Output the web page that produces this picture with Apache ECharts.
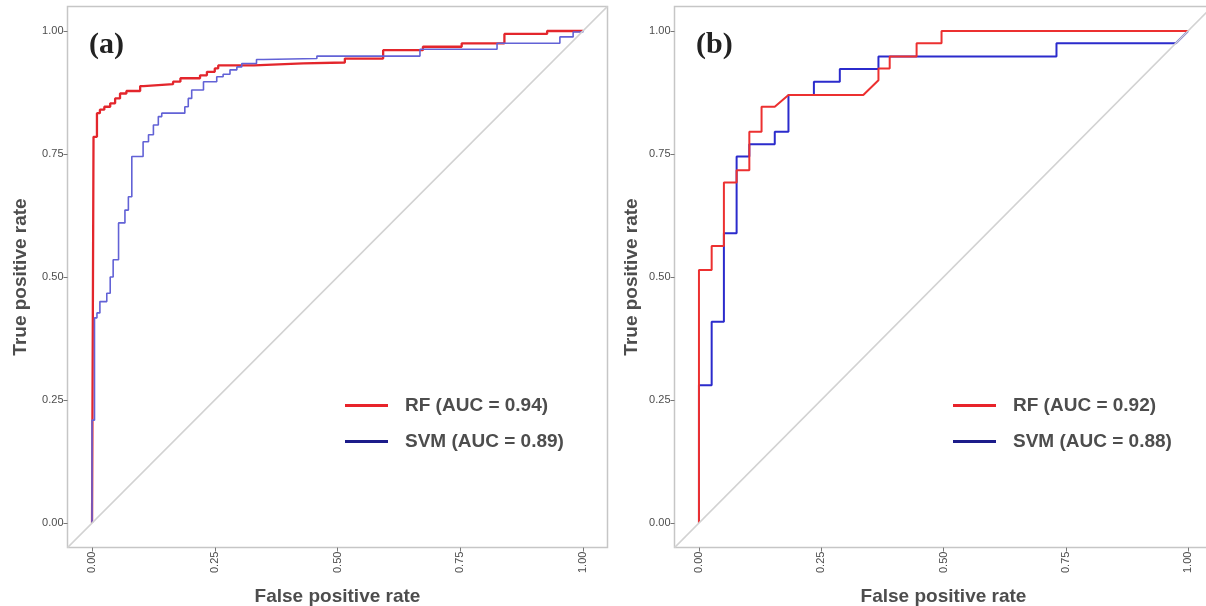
<!DOCTYPE html>
<html>
<head>
<meta charset="utf-8">
<script src="https://cdn.jsdelivr.net/npm/echarts@6/dist/echarts.min.js"></script>
<style>
html,body{margin:0;padding:0;background:#fff;}
#chart{width:1206px;height:606px;}
</style>
</head>
<body>
<div id="chart"></div>
<script>
// ---- data ----
const tickValues = [0, 0.25, 0.5, 0.75, 1];
const panelLabels = ['(a)', '(b)'];
const legendA = ['RF (AUC = 0.94)', 'SVM (AUC = 0.89)'];
const legendB = ['RF (AUC = 0.92)', 'SVM (AUC = 0.88)'];
const diagonal = [[-0.05, -0.05], [1.05, 1.05]];

// panel (a): [fpr at riser, tpr after riser] (drawn as step 'end')
const rfA = [[0,0],[0.003,0.785],[0.01,0.833],[0.016,0.84],[0.025,0.846],[0.037,0.853],[0.047,0.863],
  [0.057,0.873],[0.07,0.878],[0.098,0.888],[0.105,0.892],[0.165,0.897],[0.18,0.904],[0.22,0.91],
  [0.234,0.917],[0.25,0.924],[0.257,0.93],[0.33,0.934],[0.43,0.936],[0.515,0.944],[0.593,0.961],
  [0.674,0.968],[0.753,0.975],[0.84,0.994],[0.927,1.0],[1.0,1.0]];
const svmA = [[0,0],[0,0.209],[0.005,0.417],[0.01,0.427],[0.016,0.45],[0.03,0.467],[0.037,0.5],
  [0.043,0.535],[0.054,0.61],[0.067,0.636],[0.074,0.663],[0.081,0.745],[0.104,0.775],[0.115,0.789],
  [0.125,0.809],[0.135,0.826],[0.142,0.833],[0.189,0.846],[0.196,0.863],[0.203,0.88],[0.227,0.897],
  [0.254,0.907],[0.267,0.912],[0.281,0.921],[0.295,0.927],[0.305,0.934],[0.335,0.942],[0.349,0.944],
  [0.458,0.949],[0.668,0.963],[0.825,0.975],[0.953,0.988],[0.98,0.998],[1.0,1.0]];

// panel (b): ROC vertices
const rfB = [[0,0],[0,0.514],[0.026,0.514],[0.026,0.563],[0.051,0.563],[0.051,0.692],[0.077,0.692],
  [0.077,0.717],[0.103,0.717],[0.103,0.795],[0.128,0.795],[0.128,0.846],[0.155,0.846],[0.183,0.87],
  [0.336,0.87],[0.367,0.9],[0.367,0.924],[0.39,0.924],[0.39,0.948],[0.445,0.948],[0.445,0.975],
  [0.496,0.975],[0.496,1.0],[1.0,1.0]];
const svmB = [[0,0],[0,0.28],[0.026,0.28],[0.026,0.409],[0.051,0.409],[0.051,0.589],[0.077,0.589],
  [0.077,0.745],[0.103,0.745],[0.103,0.77],[0.155,0.77],[0.155,0.795],[0.183,0.795],[0.183,0.87],
  [0.235,0.87],[0.235,0.897],[0.288,0.897],[0.288,0.923],[0.367,0.923],[0.367,0.948],[0.731,0.948],
  [0.731,0.975],[0.975,0.975],[1.0,1.0]];

// ---- chart ----
const FONT = '"Liberation Sans", Arial, sans-serif';
const grey = '#4d4d4d';
function xAxis(gi) {
  return {
    type: 'value', gridIndex: gi, min: -0.05, max: 1.05, position: 'bottom',
    axisLine: {show: false, onZero: false}, splitLine: {show: false},
    axisTick: {show: true, inside: false, customValues: tickValues, length: 4, lineStyle: {color: '#777', width: 1}},
    axisLabel: {customValues: tickValues, rotate: 90, margin: 4, fontSize: 11, color: grey,
      fontFamily: FONT, formatter: v => v.toFixed(2)},
    name: 'False positive rate', nameLocation: 'middle', nameGap: 40,
    nameTextStyle: {fontSize: 19, fontWeight: 'bold', color: grey, fontFamily: FONT}
  };
}
function yAxis(gi, gap) {
  return {
    type: 'value', gridIndex: gi, min: -0.05, max: 1.05, position: 'left',
    axisLine: {show: false, onZero: false}, splitLine: {show: false},
    axisTick: {show: true, inside: false, customValues: tickValues, length: 4, lineStyle: {color: '#777', width: 1}},
    axisLabel: {customValues: tickValues, margin: 4, fontSize: 11, color: grey,
      fontFamily: FONT, formatter: v => v.toFixed(2)},
    name: 'True positive rate', nameLocation: 'middle', nameGap: gap,
    nameTextStyle: {fontSize: 19, fontWeight: 'bold', color: grey, fontFamily: FONT}
  };
}
function legend(names, left, colors) {
  return {
    orient: 'vertical', left: left, top: 391, icon: 'rect', itemWidth: 43, itemHeight: 3, itemGap: 17,
    textStyle: {fontSize: 19, fontWeight: 'bold', color: grey, fontFamily: FONT, padding: [0, 0, 0, 12]},
    data: names.map((n, i) => ({name: n, itemStyle: {color: colors[i]}}))
  };
}
function lineSeries(name, data, gi, color, width, step, z) {
  return {
    type: 'line', name: name, data: data, xAxisIndex: gi, yAxisIndex: gi,
    step: step, showSymbol: false, symbol: 'none', silent: true, z: z,
    lineStyle: {color: color, width: width}, itemStyle: {color: color}
  };
}
const option = {
  animation: false,
  backgroundColor: '#fff',
  grid: [
    {left: 67.5, top: 6.4, width: 540, height: 541.2, show: true, borderColor: '#c6c6c6', borderWidth: 1.5,
      backgroundColor: 'transparent', containLabel: false, outerBoundsMode: 'none'},
    {left: 674.5, top: 6.4, width: 538, height: 541.2, show: true, borderColor: '#c6c6c6', borderWidth: 1.5,
      backgroundColor: 'transparent', containLabel: false, outerBoundsMode: 'none'}
  ],
  xAxis: [xAxis(0), xAxis(1)],
  yAxis: [yAxis(0, 37), yAxis(1, 33)],
  legend: [
    legend(legendA, 340, ['#e8232a', '#1c1c8a']),
    legend(legendB, 948, ['#e8232a', '#1c1c8a'])
  ],
  graphic: [
    {type: 'text', left: 89, top: 30, style: {text: panelLabels[0], font: 'bold 30px "Liberation Serif", "Times New Roman", serif', fill: '#222'}},
    {type: 'text', left: 696, top: 30, style: {text: panelLabels[1], font: 'bold 30px "Liberation Serif", "Times New Roman", serif', fill: '#222'}}
  ],
  series: [
    lineSeries(legendA[0], rfA, 0, '#e3262c', 2.3, 'end', 2),
    lineSeries(legendA[1], svmA, 0, '#6262d6', 1.6, 'end', 3),
    lineSeries('diagA', diagonal, 0, '#d2d2d2', 1.5, false, 4),
    lineSeries(legendB[1], svmB, 1, '#2b2bcc', 2, false, 2),
    lineSeries(legendB[0], rfB, 1, '#ec3030', 2, false, 3),
    lineSeries('diagB', diagonal, 1, '#d2d2d2', 1.5, false, 4)
  ]
};
const chart = echarts.init(document.getElementById('chart'), null, {renderer: 'canvas'});
chart.setOption(option);
</script>
</body>
</html>
